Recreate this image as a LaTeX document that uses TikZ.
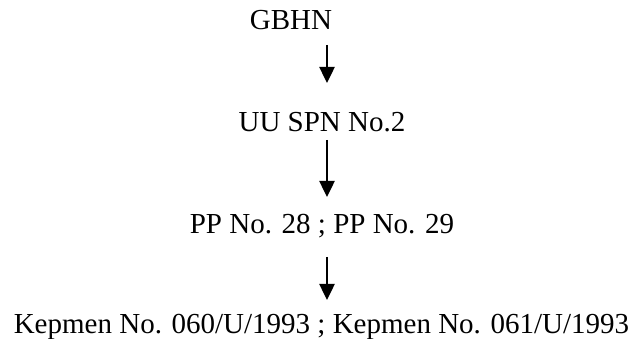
\documentclass[tikz,border=0pt]{standalone}
\usepackage{fontspec}
\setmainfont{Liberation Serif}
\usetikzlibrary{arrows.meta}
\tikzset{
  lbl/.style={anchor=base, inner sep=0pt, font=\fontsize{29}{34}\selectfont},
  arr/.style={line width=2.5pt, -{Triangle[width=15pt,length=16pt]}}
}
\begin{document}
\begin{tikzpicture}[x=1pt,y=1pt]
\useasboundingbox (0,0) rectangle (631,339);
\node[lbl] (gbhn) at (291,309) {GBHN};
\node[lbl] (uu) at (322,207) {UU SPN No.2};
\node[lbl] (pp) at (322,105) {PP No. 28 ; PP No. 29};
\node[lbl] (kep) at (321.5,5) {Kepmen No. 060/U/1993 ; Kepmen No. 061/U/1993};
\draw[arr] ([xshift=36pt,yshift=-15pt]gbhn.base) -- ([xshift=5pt,yshift=49pt]uu.base);
\draw[arr] ([xshift=5pt,yshift=-8pt]uu.base) -- ([xshift=5pt,yshift=37pt]pp.base);
\draw[arr] ([xshift=5pt,yshift=-23pt]pp.base) -- ([xshift=5.5pt,yshift=34pt]kep.base);
\end{tikzpicture}
\end{document}
